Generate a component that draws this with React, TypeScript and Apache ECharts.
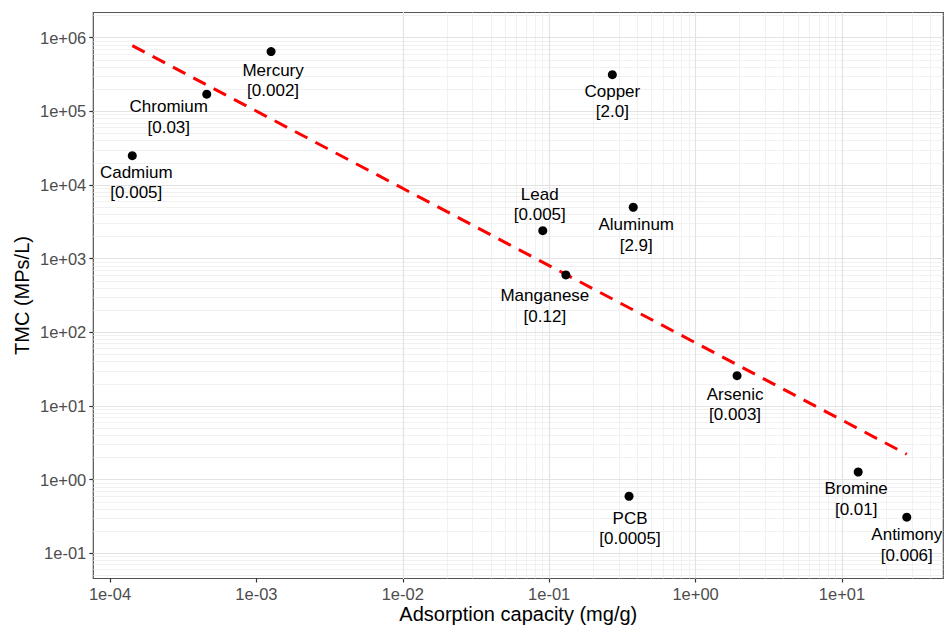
import React, { useEffect, useRef } from 'react';
import * as echarts from 'echarts';

// ---- data ----
const elements = ['Cadmium', 'Chromium', 'Mercury', 'Copper', 'Lead', 'Aluminum', 'Manganese', 'Arsenic', 'Bromine', 'PCB', 'Antimony'];
const adsorption = [1.42e-4, 4.58e-4, 1.26e-3, 0.27, 0.0904, 0.375, 0.13, 1.92, 12.9, 0.351, 27.7];
const tmc = [2.5e4, 1.71e5, 6.47e5, 3.15e5, 2400, 4990, 601, 25.8, 1.27, 0.595, 0.309];
const bracketValues = ['0.005', '0.03', '0.002', '2.0', '0.005', '2.9', '0.12', '0.003', '0.01', '0.0005', '0.006'];
const trendX = [1.42e-4, 27.7];
const trendY = [7.8e5, 2.21];
const xTicks = [1e-4, 1e-3, 1e-2, 1e-1, 1, 10];
const xTickLabels = ['1e-04', '1e-03', '1e-02', '1e-01', '1e+00', '1e+01'];
const yTicks = [1e-1, 1, 10, 100, 1e3, 1e4, 1e5, 1e6];
const yTickLabels = ['1e-01', '1e+00', '1e+01', '1e+02', '1e+03', '1e+04', '1e+05', '1e+06'];

// ---- layout (label nudges in px, centre of label block relative to point) ----
const labelOffsets: [number, number][] = [
  [4, 27], [-38, 23], [2, 29], [0, 27], [-3, -26], [3, 28], [-21, 31], [-2, 29], [-2, 27], [1, 32], [0, 28],
];

const X_MIN = Math.pow(10, -4.114);
const X_MAX = Math.pow(10, 1.692);
const Y_MIN = Math.pow(10, -1.342);
const Y_MAX = Math.pow(10, 6.342);

const FONT = "'Liberation Sans', Arial, Helvetica, sans-serif";

function pickLabel(v: number, ticks: number[], labels: string[]) {
  for (let i = 0; i < ticks.length; i++) {
    if (Math.abs(Math.log10(v) - Math.log10(ticks[i])) < 1e-6) return labels[i];
  }
  return '';
}

function logGrid(min: number, max: number) {
  const major: number[] = [];
  const minor: number[] = [];
  for (let d = -6; d <= 7; d++) {
    for (let k = 1; k <= 9; k++) {
      const v = k * Math.pow(10, d);
      if (v > min && v < max) (k === 1 ? major : minor).push(v);
    }
  }
  return { major, minor };
}

export default function App() {
  const ref = useRef<HTMLDivElement>(null);
  useEffect(() => {
    if (!ref.current) return;
    const chart = echarts.init(ref.current, undefined, { renderer: 'svg' });
    const gx = logGrid(X_MIN, X_MAX);
    const gy = logGrid(Y_MIN, Y_MAX);
    const majorStyle = { color: '#e3e3e3', width: 1.2, type: 'solid' as const };
    const minorStyle = { color: '#eeeeee', width: 0.8, type: 'solid' as const };
    const gridLines = [
      ...gx.minor.map((v) => ({ xAxis: v, lineStyle: minorStyle })),
      ...gy.minor.map((v) => ({ yAxis: v, lineStyle: minorStyle })),
      ...gx.major.map((v) => ({ xAxis: v, lineStyle: majorStyle })),
      ...gy.major.map((v) => ({ yAxis: v, lineStyle: majorStyle })),
    ];

    const points = elements.map((name, i) => ({
      name,
      value: [adsorption[i], tmc[i]],
    }));

    chart.setOption({
      animation: false,
      backgroundColor: '#ffffff',
      grid: {
        left: 93.3,
        right: 1.7,
        top: 12.5,
        bottom: 47.5,
        show: true,
        borderColor: '#555555',
        borderWidth: 1.2,
        backgroundColor: 'transparent',
        outerBoundsMode: 'none',
      },
      xAxis: {
        type: 'log',
        min: X_MIN,
        max: X_MAX,
        name: 'Adsorption capacity (mg/g)',
        nameLocation: 'middle',
        nameGap: 25,
        nameMoveOverlap: false,
        nameTextStyle: { fontFamily: FONT, fontSize: 20, lineHeight: 20, color: '#000000' },
        axisLine: { show: false },
        axisTick: { show: true, length: 4, customValues: xTicks, lineStyle: { color: '#333333', width: 1.2 } },
        axisLabel: {
          show: true,
          customValues: xTicks,
          margin: 7,
          fontFamily: FONT,
          fontSize: 16.5,
          lineHeight: 17,
          color: '#4d4d4d',
          formatter: (v: number) => pickLabel(v, xTicks, xTickLabels),
        },
        splitLine: { show: false },
        minorSplitLine: { show: false },
      },
      yAxis: {
        type: 'log',
        min: Y_MIN,
        max: Y_MAX,
        name: 'TMC (MPs/L)',
        nameLocation: 'middle',
        nameGap: 61,
        nameMoveOverlap: false,
        nameTextStyle: { fontFamily: FONT, fontSize: 20, lineHeight: 20, color: '#000000' },
        axisLine: { show: false },
        axisTick: { show: true, length: 4, customValues: yTicks, lineStyle: { color: '#333333', width: 1.2 } },
        axisLabel: {
          show: true,
          customValues: yTicks,
          margin: 7,
          fontFamily: FONT,
          fontSize: 16.5,
          lineHeight: 17,
          color: '#4d4d4d',
          formatter: (v: number) => pickLabel(v, yTicks, yTickLabels),
        },
        splitLine: { show: false },
        minorSplitLine: { show: false },
      },
      series: [
        {
          type: 'line',
          data: [],
          silent: true,
          z: 1,
          markLine: {
            silent: true,
            symbol: ['none', 'none'],
            label: { show: false },
            emphasis: { disabled: true },
            animation: false,
            z: 1,
            data: gridLines,
          },
        },
        {
          type: 'line',
          data: [
            [trendX[0], trendY[0]],
            [trendX[1], trendY[1]],
          ],
          showSymbol: false,
          silent: true,
          z: 3,
          lineStyle: { color: '#ff0000', width: 3, type: [14, 9] },
        },
        {
          type: 'scatter',
          data: points,
          symbol: 'circle',
          symbolSize: 9,
          z: 4,
          itemStyle: { color: '#000000', opacity: 1 },
          label: {
            show: true,
            position: 'inside',
            align: 'center',
            verticalAlign: 'middle',
            fontFamily: FONT,
            fontSize: 17,
            lineHeight: 20.5,
            color: '#000000',
            opacity: 1,
            formatter: (p: any) => `${p.name}\n[${bracketValues[p.dataIndex]}]`,
          },
          labelLayout: (params: any) => {
            const o = labelOffsets[params.dataIndex] || [0, 0];
            return { dx: o[0], dy: o[1], hideOverlap: false };
          },
        },
      ],
    });
    return () => chart.dispose();
  }, []);

  return (
    <div
      ref={ref}
      style={{ position: 'fixed', left: 0, top: 0, width: 945, height: 626, background: '#ffffff' }}
    />
  );
}
